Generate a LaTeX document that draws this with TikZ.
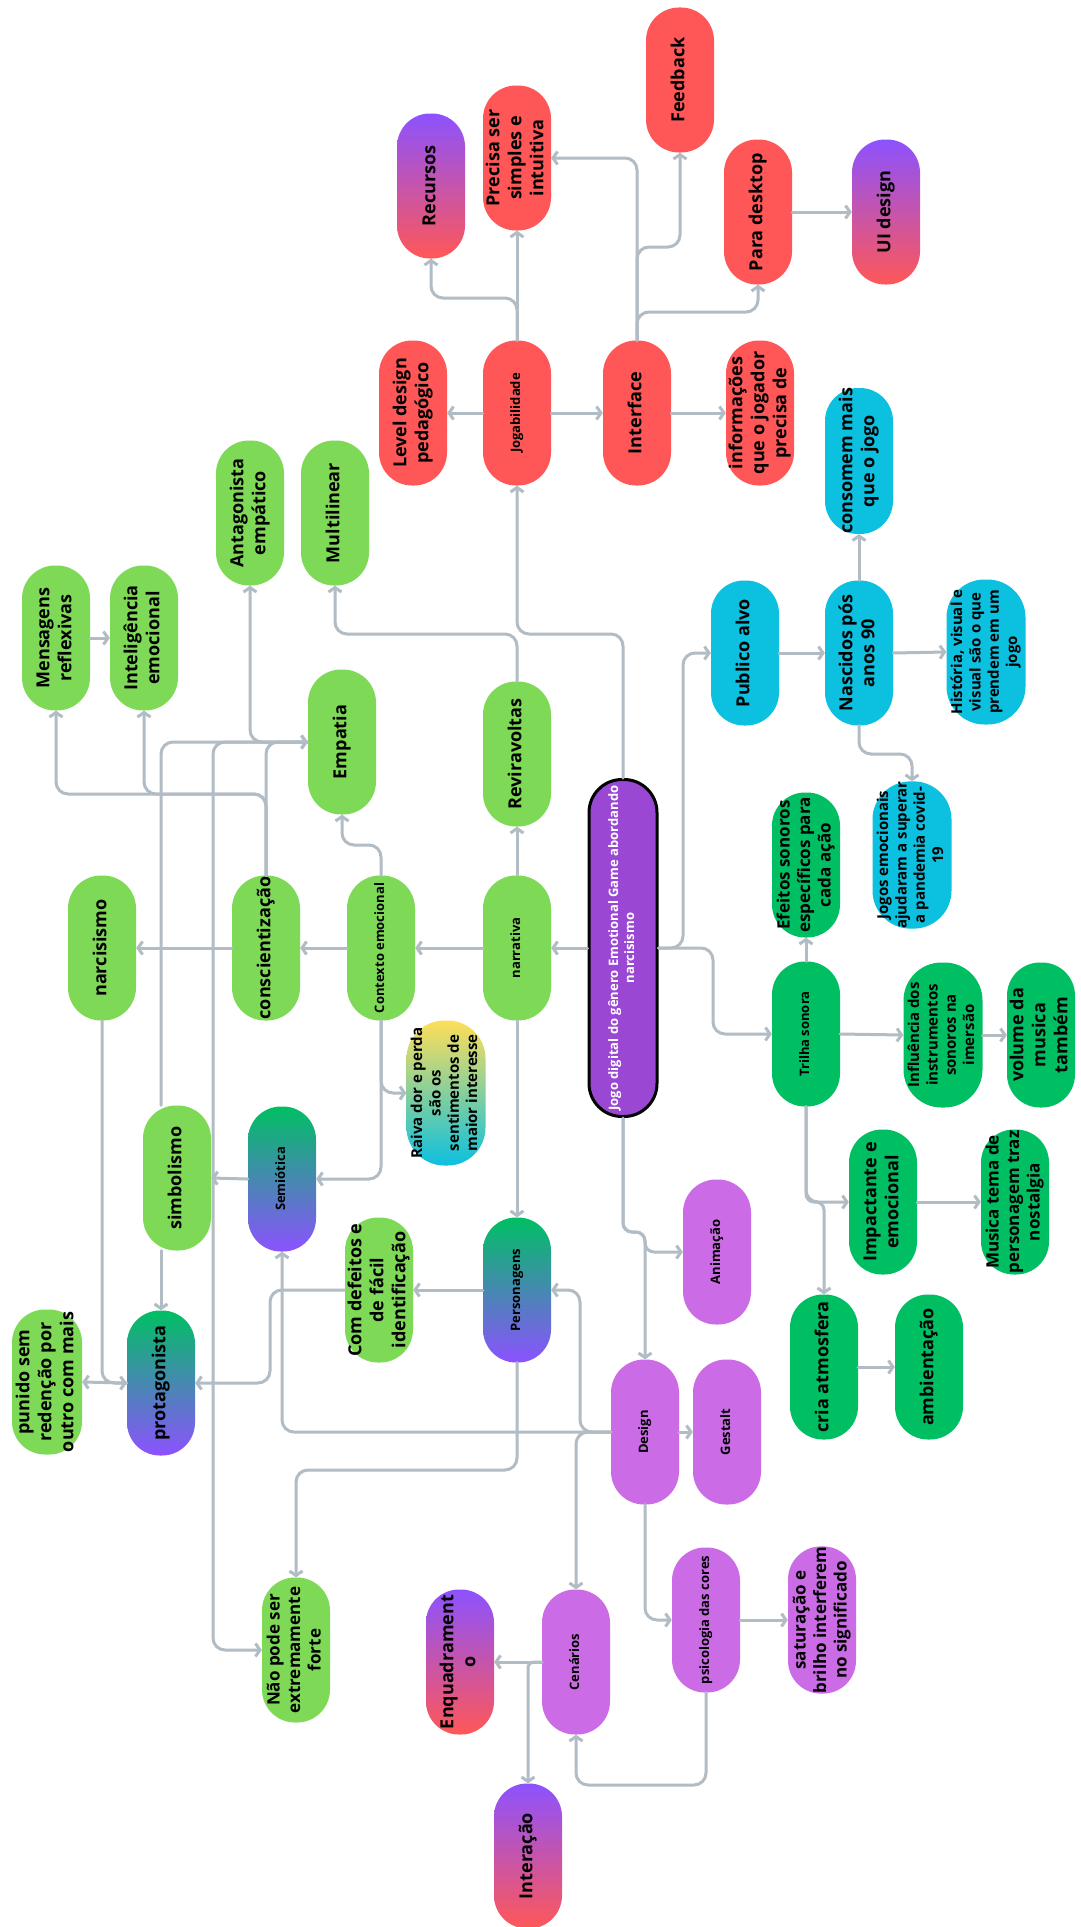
\documentclass[tikz,border=0pt]{standalone}
\usepackage{fontspec}
\setmainfont{Open Sans}
\usepackage{graphicx}
\usetikzlibrary{arrows.meta,calc}

\definecolor{cred}{HTML}{FF5757}
\definecolor{cgreen}{HTML}{7ED957}
\definecolor{cdgreen}{HTML}{00BF63}
\definecolor{ccyan}{HTML}{0CC0DF}
\definecolor{clpurple}{HTML}{CB6CE6}
\definecolor{cpurple}{HTML}{8C52FF}
\definecolor{cyellow}{HTML}{FFDE59}
\definecolor{ccentral}{HTML}{9A47D4}
\definecolor{linegray}{RGB}{178,188,196}

\newcommand{\vtx}[1]{\rotatebox{90}{\begin{tabular}{@{}c@{}}#1\end{tabular}}}

\tikzset{
  pill/.style={rectangle, rounded corners=33pt, minimum width=68pt, minimum height=145pt,
    inner sep=0pt, text=black, font=\bfseries\fontsize{18}{22}\selectfont},
  widepill/.style={minimum width=79pt, rounded corners=38pt},
  fsmall/.style={font=\bfseries\fontsize{13}{16}\selectfont},
  fmid/.style={font=\bfseries\fontsize{17}{20.5}\selectfont},
  flow/.style={font=\bfseries\fontsize{15}{18.3}\selectfont},
  nred/.style={pill, fill=cred},
  ngreen/.style={pill, fill=cgreen},
  ndgreen/.style={pill, fill=cdgreen},
  ncyan/.style={pill, fill=ccyan},
  nlpurple/.style={pill, fill=clpurple},
  gradpr/.style={pill, top color=cpurple, bottom color=cred},
  gradgp/.style={pill, top color=cdgreen, bottom color=cpurple},
  gradyc/.style={pill, top color=cyellow, bottom color=ccyan},
  conn/.style={draw=linegray, line width=3pt, rounded corners=12pt, line cap=round, line join=round,
    -{Straight Barb[length=4.5pt,width=13pt]}},
  plain/.style={draw=linegray, line width=3pt, rounded corners=12pt, line cap=round, line join=round}
}

\begin{document}
\begin{tikzpicture}[x=1pt,y=-1pt]
\fill[white] (0,0) rectangle (1080,1927);
\useasboundingbox (0,0) rectangle (1080,1927);

% ---------- red / top ----------
\node[gradpr] (recursos) at (431,186) {\vtx{Recursos}};
\node[nred] (precisa) at (517,158) {\vtx{Precisa ser\\simples e\\intuitiva}};
\node[nred] (feedback) at (680,80) {\vtx{Feedback}};
\node[nred] (desktop) at (758,212) {\vtx{Para desktop}};
\node[gradpr] (uidesign) at (886,212) {\vtx{UI design}};
\node[nred] (level) at (413,413) {\vtx{Level design\\pedagógico}};
\node[nred, fsmall] (jogab) at (517,413) {\vtx{Jogabilidade}};
\node[nred] (interface) at (637,413) {\vtx{Interface}};
\node[nred] (info) at (760,413) {\vtx{informações\\que o jogador\\precisa de}};

% ---------- cyan ----------
\node[ncyan] (consomem) at (859,461) {\vtx{consomem mais\\que o jogo}};
\node[ncyan] (publico) at (745,653) {\vtx{Publico alvo}};
\node[ncyan] (nascidos) at (859,653) {\vtx{Nascidos pós\\anos 90}};
\node[ncyan, widepill, flow] (historia) at (986,652) {\vtx{História, visual e\\visual são o que\\prendem em um\\jogo}};
\node[ncyan, widepill, flow] (jogosemo) at (912,855) {\vtx{Jogos emocionais\\ajudaram a superar\\a pandemia covid-\\19}};

% ---------- dark green ----------
\node[ndgreen, fmid] (efeitos) at (806,865) {\vtx{Efeitos sonoros\\específicos para\\cada ação}};
\node[ndgreen, fsmall] (trilha) at (806,1034) {\vtx{Trilha sonora}};
\node[ndgreen, widepill, flow] (influencia) at (943,1035) {\vtx{Influência dos\\instrumentos\\sonoros na\\imersão}};
\node[ndgreen] (volume) at (1041,1035) {\vtx{volume da\\musica\\também}};
\node[ndgreen] (impactante) at (883,1202) {\vtx{Impactante e\\emocional}};
\node[ndgreen, fmid] (musica) at (1015,1202) {\vtx{Musica tema de\\personagem traz\\nostalgia}};
\node[ndgreen] (cria) at (824,1367) {\vtx{cria atmosfera}};
\node[ndgreen] (ambient) at (929,1367) {\vtx{ambientação}};

% ---------- light green ----------
\node[ngreen] (mensagens) at (56,638) {\vtx{Mensagens\\reflexivas}};
\node[ngreen] (intelig) at (144,638) {\vtx{Inteligência\\emocional}};
\node[ngreen] (antag) at (250,513) {\vtx{Antagonista\\empático}};
\node[ngreen] (multi) at (335,513) {\vtx{Multilinear}};
\node[ngreen] (empatia) at (342,742) {\vtx{Empatia}};
\node[ngreen] (reviravoltas) at (517,754) {\vtx{Reviravoltas}};
\node[ngreen] (narcisismo) at (102,948) {\vtx{narcisismo}};
\node[ngreen] (consc) at (266,948) {\vtx{conscientização}};
\node[ngreen, fsmall] (contexto) at (381,948) {\vtx{Contexto emocional}};
\node[ngreen, fsmall] (narrativa) at (517,948) {\vtx{narrativa}};
\node[ngreen] (simbolismo) at (177,1178) {\vtx{simbolismo}};
\node[ngreen] (comdefeitos) at (379,1290) {\vtx{Com defeitos e\\de fácil\\identificação}};
\node[ngreen, minimum width=70pt] (punido) at (47,1382) {\vtx{punido sem\\redenção por\\outro com mais}};
\node[ngreen, fmid] (naopode) at (296,1650) {\vtx{Não pode ser\\extremamente\\forte}};

% ---------- gradients ----------
\node[gradyc, widepill, flow] (raiva) at (446,1093) {\vtx{Raiva dor e perda\\são os\\sentimentos de\\maior interesse}};
\node[gradgp, fsmall] (semiotica) at (282,1179) {\vtx{Semiótica}};
\node[gradgp, fsmall] (personagens) at (517,1290) {\vtx{Personagens}};
\node[gradgp] (protagonista) at (161,1383) {\vtx{protagonista}};
\node[gradpr] (enquadramento) at (460,1662) {\vtx{Enquadrament\\o}};
\node[gradpr] (interacao) at (528,1856) {\vtx{Interação}};

% ---------- light purple ----------
\node[nlpurple, fsmall] (animacao) at (717,1252) {\vtx{Animação}};
\node[nlpurple, fsmall] (design) at (645,1432) {\vtx{Design}};
\node[nlpurple, fsmall] (gestalt) at (727,1432) {\vtx{Gestalt}};
\node[nlpurple, fsmall] (cenarios) at (576,1662) {\vtx{Cenários}};
\node[nlpurple, fsmall] (psico) at (706,1620) {\vtx{psicologia das cores}};
\node[nlpurple, fmid] (saturacao) at (822,1620) {\vtx{saturação e\\brilho interferem\\no significado}};

% ---------- central ----------
\node[pill, fill=ccentral, draw=black, line width=3pt, minimum height=337pt, text=white, fsmall]
  (central) at (623,948) {\vtx{Jogo digital do gênero Emotional Game abordando\\narcisismo}};

% ---------- connectors ----------
% central row
\draw[conn] (central.west) -- (narrativa.east);
\draw[conn] (narrativa.west) -- (contexto.east);
\draw[conn] (contexto.west) -- (consc.east);
\draw[conn] (consc.west) -- (narcisismo.east);
\draw[conn] (narrativa.north) -- (reviravoltas.south);
\draw[conn] (reviravoltas.north) -- (reviravoltas.north |- 0,634) -| (multi.south);
\draw[conn] (central.north) -- (central.north |- 0,634) -| (jogab.south);
\draw[conn] (contexto.north) -- (contexto.north |- 0,845) -| (empatia.south);

% conscientizacao / empatia cluster
\draw[conn] (mensagens.east) -- (intelig.west);
\draw[conn] (consc.north) -- (consc.north |- 0,794) -| (mensagens.south);
\draw[conn] (consc.north) -- (consc.north |- 0,794) -| (intelig.south);
\draw[conn] (consc.north) |- (empatia.west);
\draw[conn] (protagonista.north |- simbolismo.north) |- (empatia.west);
\draw[conn] (empatia.west) -| (antag.south);
\draw[conn] (empatia.west) -- (empatia.west -| 213,0) |- (naopode.west);

% protagonista cluster
\draw[conn] (narcisismo.south) |- (protagonista.west);
\draw[conn] (protagonista.west) -- (punido.east);
\draw[conn] (protagonista.north |- simbolismo.south) -- (protagonista.north);
\draw[conn] (semiotica.west) -- (simbolismo.east);
\draw[conn] (contexto.south) |- (semiotica.east);
\draw[conn] (contexto.south) |- (raiva.west);
\draw[conn] (narrativa.south) -- (personagens.north);
\draw[conn] (personagens.west) -- (comdefeitos.east);
\draw[conn] (comdefeitos.west) -- (comdefeitos.west -| 270,0) |- (protagonista.east);
\draw[conn] (personagens.south) -- (personagens.south |- 0,1470) -| (naopode.north);

% design cluster
\draw[conn, rounded corners=9pt] (central.south) -- (central.south |- 0,1232) -| (design.north);
\draw[conn, rounded corners=9pt] (central.south) -- (central.south |- 0,1232) -| (design.north |- animacao.west) -- (animacao.west);
\draw[conn] (design.east) -- (gestalt.west);
\draw[conn] (design.west) -| (semiotica.south);
\draw[conn] (design.west) -- (design.west -| 580,0) |- (personagens.east);
\draw[conn] (design.west) -| (cenarios.north);
\draw[conn] (design.south) |- (psico.west);
\draw[conn] (psico.east) -- (saturacao.west);
\draw[conn] (psico.south) -- (psico.south |- 0,1785) -| (cenarios.south);
\draw[conn] (cenarios.west) -- (enquadramento.east);
\draw[conn, rounded corners=6pt] (cenarios.west) -| (interacao.north);

% publico / trilha
\draw[conn] (central.east) -- (central.east -| 713,0) |- (trilha.west);
\draw[conn] (central.east) -- (central.east -| 683,0) |- (publico.west);
\draw[conn] (publico.east) -- (nascidos.west);
\draw[conn] (nascidos.north) -- (consomem.south);
\draw[conn] (nascidos.east) -- (historia.west);
\draw[conn] (nascidos.south) -- (nascidos.south |- 0,754) -| (jogosemo.north);
\draw[conn] (trilha.north) -- (efeitos.south);
\draw[conn] (trilha.east) -- (influencia.west);
\draw[conn] (influencia.east) -- (volume.west);
\draw[conn] (trilha.south) |- (impactante.west);
\draw[conn, rounded corners=8pt] (trilha.south) -- (trilha.south |- 0,1202) -| (cria.north);
\draw[conn] (impactante.east) -- (musica.west);
\draw[conn] (cria.east) -- (ambient.west);

% jogabilidade / interface
\draw[conn] (jogab.west) -- (level.east);
\draw[conn] (jogab.east) -- (interface.west);
\draw[conn] (interface.east) -- (info.west);
\draw[conn] (jogab.north) -- (precisa.south);
\draw[conn] (jogab.north) -- (jogab.north |- 0,298) -| (recursos.south);
\draw[conn] (interface.north) |- (precisa.east);
\draw[conn] (interface.north) -- (interface.north |- 0,247) -| (feedback.south);
\draw[conn] (interface.north) -- (interface.north |- 0,312) -| (desktop.south);
\draw[conn] (desktop.east) -- (uidesign.west);
\end{tikzpicture}
\end{document}
